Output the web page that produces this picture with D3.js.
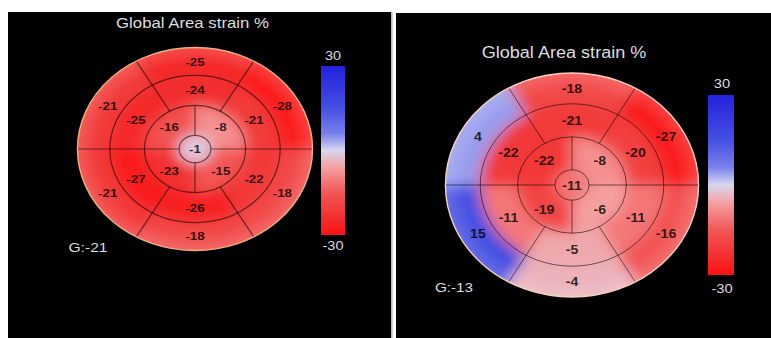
<!DOCTYPE html>
<html>
<head>
<meta charset="utf-8">
<script src="https://cdn.jsdelivr.net/npm/d3@7"></script>
<style>
  html, body { margin: 0; padding: 0; background: #ffffff; }
  svg { display: block; font-family: "Liberation Sans", Arial, sans-serif; }
</style>
</head>
<body>
<svg id="chart" width="771" height="338"></svg>
<script>
// 17-segment bullseye values (%). Rings are listed clockwise from 12 o'clock;
// the apical ring starts with its upper-right quadrant.
const basalLeft  = [-25, -28, -18, -18, -21, -21];
const midLeft    = [-24, -21, -22, -26, -27, -25];
const apicalLeft = [-8, -15, -23, -16];
const apexLeft   = -1;
const globalLeft = -21;

const basalRight  = [-18, -27, -16, -4, 15, 4];
const midRight    = [-21, -20, -11, -5, -11, -22];
const apicalRight = [-8, -6, -19, -22];
const apexRight   = -11;
const globalRight = -13;

const titleText  = "Global Area strain %";
const scaleTicks = [30, -30];

// Diverging strain colour map: red (shortening) to blue (lengthening)
const colorDomain = [-30, -24, -15, -6, 0, 6, 15, 30];
const colorRange  = ["#ff1010", "#f22e2e", "#f25656", "#f4a0a0", "#d8d6f0", "#7880ec", "#4450e2", "#2222dc"];

const color = d3.scaleLinear()
  .domain(colorDomain)
  .range(colorRange)
  .interpolate(d3.interpolateRgb)
  .clamp(true);

const ringFrac  = [0.135, 0.43, 0.725, 1];
const labelFrac = { apical: 0.31, mid: 0.58, basal: 0.858 };
const deg = Math.PI / 180;

const svg = d3.select("#chart");
const defs = svg.append("defs");

// Panel layout
const panels = [
  {
    id: "L", bg: [8, 12, 383, 326],
    cx: 195, cy: 149, R: 101.5, sx: 1.158,
    title: { x: 192.5, y: 27.5, size: 14.5 },
    bar: { x: 321, y: 66, w: 24, h: 169 },
    barLabels: { x: 333, top: 60, bottom: 250, size: 12.5 },
    globalLabel: { x: 88, y: 251.5, size: 13.5 },
    labelSize: 11.5, lineWidth: 1.2, rim: "#eab27a",
    basal: basalLeft, mid: midLeft, apical: apicalLeft, apex: apexLeft, global: globalLeft
  },
  {
    id: "R", bg: [396, 13, 375, 325],
    cx: 572, cy: 185, R: 112, sx: 1.13,
    title: { x: 564, y: 57.5, size: 16 },
    bar: { x: 708, y: 95, w: 26, h: 180 },
    barLabels: { x: 722, top: 88, bottom: 293, size: 13 },
    globalLabel: { x: 454, y: 291.5, size: 13.5 },
    labelSize: 12.5, lineWidth: 1.0, rim: "#f6d2c2",
    basal: basalRight, mid: midRight, apical: apicalRight, apex: apexRight, global: globalRight
  }
];

// Separator between the two panels
svg.append("rect").attr("x", 391).attr("y", 12).attr("width", 1.6).attr("height", 326).attr("fill", "#b8b8b8");

panels.forEach(p => {
  const R = p.R;
  const rr = ringFrac.map(f => f * R);

  // black panel
  svg.append("rect")
    .attr("x", p.bg[0]).attr("y", p.bg[1])
    .attr("width", p.bg[2]).attr("height", p.bg[3])
    .attr("fill", "#000");

  // soft colour field
  const blur = defs.append("filter")
    .attr("id", "soft" + p.id)
    .attr("x", "-30%").attr("y", "-30%").attr("width", "160%").attr("height", "160%");
  blur.append("feGaussianBlur").attr("stdDeviation", 6.5);

  defs.append("clipPath").attr("id", "clip" + p.id)
    .append("circle").attr("r", R);

  const rim = defs.append("radialGradient").attr("id", "rim" + p.id)
    .attr("cx", 0.5).attr("cy", 0.5).attr("r", 0.5);
  rim.append("stop").attr("offset", "84%").attr("stop-color", "#fff").attr("stop-opacity", 0);
  rim.append("stop").attr("offset", "100%").attr("stop-color", "#fff").attr("stop-opacity", 0.16);

  const g = svg.append("g")
    .attr("transform", `translate(${p.cx},${p.cy}) scale(${p.sx},1)`);

  const field = g.append("g")
    .attr("clip-path", `url(#clip${p.id})`)
    .append("g")
    .attr("filter", `url(#soft${p.id})`);

  const basalArc = d3.arc().innerRadius(rr[2]).outerRadius(R * 1.5);
  const midArc = d3.arc().innerRadius(rr[1]).outerRadius(rr[2]);
  const apicalArc = d3.arc().innerRadius(rr[0]).outerRadius(rr[1]);

  field.selectAll("path.basal").data(p.basal).join("path")
    .attr("d", (d, i) => basalArc({ startAngle: (i * 60 - 30) * deg, endAngle: (i * 60 + 30) * deg }))
    .attr("fill", d => color(d)).attr("stroke", d => color(d)).attr("stroke-width", 0.6);
  field.selectAll("path.mid").data(p.mid).join("path")
    .attr("d", (d, i) => midArc({ startAngle: (i * 60 - 30) * deg, endAngle: (i * 60 + 30) * deg }))
    .attr("fill", d => color(d)).attr("stroke", d => color(d)).attr("stroke-width", 0.6);
  field.selectAll("path.apical").data(p.apical).join("path")
    .attr("d", (d, i) => apicalArc({ startAngle: i * 90 * deg, endAngle: (i + 1) * 90 * deg }))
    .attr("fill", d => color(d)).attr("stroke", d => color(d)).attr("stroke-width", 0.6);
  field.append("circle").attr("r", rr[0] + 0.5).attr("fill", color(p.apex));

  // pale rim toward the edge
  g.append("circle").attr("r", R).attr("fill", `url(#rim${p.id})`);

  // segment dividers
  const lines = g.append("g")
    .attr("stroke", "#000").attr("stroke-opacity", 0.55)
    .attr("stroke-width", p.lineWidth).attr("fill", "none");
  const radial = (a, r0, r1) => {
    const x = Math.cos(a * deg), y = -Math.sin(a * deg);
    return `M${x * r0},${y * r0}L${x * r1},${y * r1}`;
  };
  [0, 180].forEach(a => lines.append("path").attr("d", radial(a, rr[0], R)).attr("vector-effect", "non-scaling-stroke"));
  [90, 270].forEach(a => lines.append("path").attr("d", radial(a, rr[0], rr[1])).attr("vector-effect", "non-scaling-stroke"));
  [60, 120, 240, 300].forEach(a => lines.append("path").attr("d", radial(a, rr[1], R)).attr("vector-effect", "non-scaling-stroke"));
  rr.slice(0, 3).forEach(r => lines.append("circle").attr("r", r).attr("vector-effect", "non-scaling-stroke"));

  // outline
  g.append("circle").attr("r", R).attr("fill", "none")
    .attr("stroke", p.rim).attr("stroke-width", 1.4).attr("vector-effect", "non-scaling-stroke");

  // segment values
  const labels = g.append("g")
    .attr("font-size", p.labelSize).attr("font-weight", "bold")
    .attr("fill", "#000").attr("fill-opacity", 0.8)
    .attr("text-anchor", "middle");
  const put = (v, a, f) => {
    labels.append("text")
      .attr("x", Math.cos(a * deg) * f * R)
      .attr("y", -Math.sin(a * deg) * f * R)
      .attr("dy", "0.36em")
      .text(v);
  };
  p.basal.forEach((v, i) => put(v, 90 - i * 60, labelFrac.basal));
  p.mid.forEach((v, i) => put(v, 90 - i * 60, labelFrac.mid));
  p.apical.forEach((v, i) => put(v, 45 - i * 90, labelFrac.apical));
  put(p.apex, 0, 0);

  // title
  svg.append("text")
    .attr("transform", `translate(${p.title.x},${p.title.y}) scale(${p.sx},1)`)
    .attr("text-anchor", "middle").attr("font-size", p.title.size)
    .attr("fill", "#dedede").text(titleText);

  // colour scale bar
  const gradId = "bar" + p.id;
  const offset = d3.scaleLinear().domain([scaleTicks[0], scaleTicks[1]]).range([0, 100]);
  const grad = defs.append("linearGradient").attr("id", gradId)
    .attr("x1", 0).attr("y1", 0).attr("x2", 0).attr("y2", 1);
  colorDomain.slice().reverse().forEach(v => {
    grad.append("stop").attr("offset", offset(v) + "%").attr("stop-color", color(v));
  });
  svg.append("rect")
    .attr("x", p.bar.x).attr("y", p.bar.y)
    .attr("width", p.bar.w).attr("height", p.bar.h)
    .attr("fill", `url(#${gradId})`);

  [[scaleTicks[0], p.barLabels.top], [scaleTicks[1], p.barLabels.bottom]].forEach(([v, y]) => {
    svg.append("text")
      .attr("transform", `translate(${p.barLabels.x},${y}) scale(${p.sx},1)`)
      .attr("text-anchor", "middle").attr("font-size", p.barLabels.size)
      .attr("fill", "#dedede").text(v);
  });

  // global value
  svg.append("text")
    .attr("transform", `translate(${p.globalLabel.x},${p.globalLabel.y}) scale(${p.sx},1)`)
    .attr("text-anchor", "middle").attr("font-size", p.globalLabel.size)
    .attr("fill", "#dedede").text("G:" + p.global);
});
</script>
</body>
</html>
